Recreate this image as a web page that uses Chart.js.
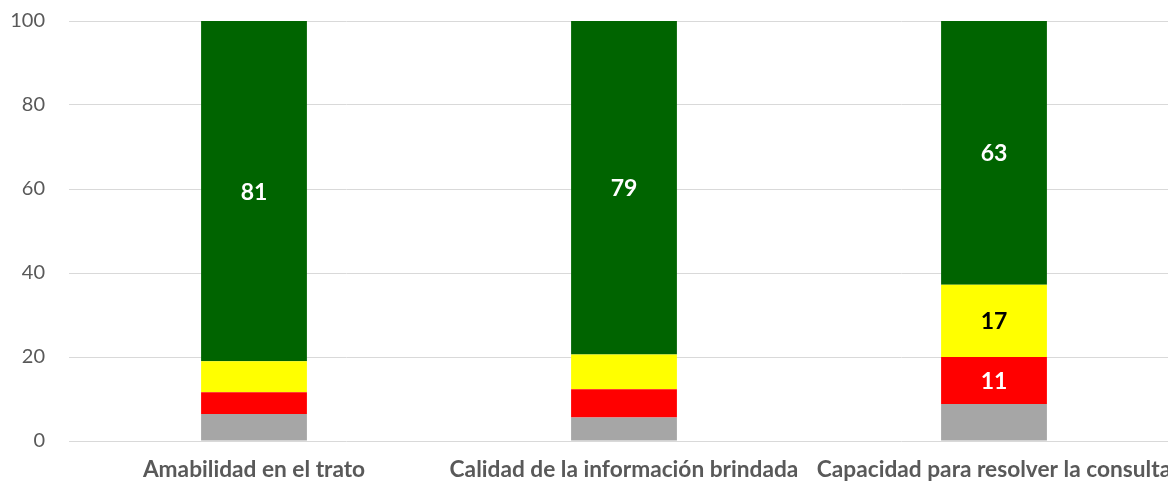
<!DOCTYPE html>
<html lang="es">
<head>
  <meta charset="UTF-8" />
  <title>Evaluación de la atención</title>
  <script src="https://cdn.jsdelivr.net/npm/chart.js"></script>
  <style>
    html, body { margin: 0; padding: 0; background: #ffffff; overflow: hidden; }
    .wrap { position: relative; width: 1180px; height: 481px; }
  </style>
</head>
<body>
  <div class="wrap">
    <canvas id="grafico"></canvas>
  </div>

  <script>
    const categorias = ["Amabilidad en el trato", "Calidad de la información brindada", "Capacidad para resolver la consulta"];
    const noResponde = [6.4, 5.6, 8.8];
    const malo = [5.2, 6.7, 11.2];
    const regular = [7.4, 8.3, 17.2];
    const bueno = [81, 79.4, 62.8];
    const ticksY = [0, 20, 40, 60, 80, 100];

    // etiquetas dentro de las barras (solo valores grandes)
    const etiquetas = {
      id: "etiquetas",
      afterDatasetsDraw(chart) {
        const ctx = chart.ctx;
        ctx.save();
        ctx.font = "bold 23px Lato";
        ctx.textAlign = "center";
        ctx.textBaseline = "middle";
        chart.data.datasets.forEach((ds, i) => {
          const meta = chart.getDatasetMeta(i);
          meta.data.forEach((bar, j) => {
            const v = ds.data[j];
            if (v < 10) return;
            ctx.fillStyle = ds.colorEtiqueta;
            ctx.fillText(Math.round(v), bar.x, (bar.y + bar.base) / 2 + 1);
          });
        });
        ctx.restore();
      }
    };

    new Chart(document.getElementById("grafico"), {
      type: "bar",
      data: {
        labels: categorias,
        datasets: [
          { label: "No responde", data: noResponde, backgroundColor: "#a6a6a6", colorEtiqueta: "#ffffff" },
          { label: "Malo", data: malo, backgroundColor: "#ff0000", colorEtiqueta: "#ffffff" },
          { label: "Regular", data: regular, backgroundColor: "#ffff00", colorEtiqueta: "#000000" },
          { label: "Bueno", data: bueno, backgroundColor: "#006400", colorEtiqueta: "#ffffff" }
        ]
      },
      options: {
        responsive: true,
        maintainAspectRatio: false,
        animation: false,
        datasets: { bar: { categoryPercentage: 1, barPercentage: 0.286, borderWidth: 0 } },
        layout: { padding: { top: 21, right: 1, left: 0, bottom: 0 } },
        plugins: {
          legend: { display: false },
          tooltip: { enabled: false }
        },
        scales: {
          x: {
            stacked: true,
            grid: { display: false, drawTicks: false },
            border: { display: false },
            ticks: {
              color: "#595959",
              font: { family: "Lato", size: 22.7, weight: "bold" },
              padding: 15,
              maxRotation: 0,
              autoSkip: false
            },
            afterFit(scale) {
              scale.height = 40;
              scale.paddingLeft = 0;
              scale.paddingRight = 0;
            }
          },
          y: {
            stacked: true,
            min: 0,
            max: 100,
            afterBuildTicks(scale) { scale.ticks = ticksY.map(v => ({ value: v })); },
            grid: { color: "#d9d9d9", lineWidth: 1, drawTicks: false },
            border: { display: false },
            ticks: {
              color: "#595959",
              font: { family: "Lato", size: 20 },
              padding: 24
            },
            afterFit(scale) {
              scale.width = 69;
              scale.paddingTop = 0;
              scale.paddingBottom = 0;
            }
          }
        }
      },
      plugins: [etiquetas]
    });
  </script>
</body>
</html>
